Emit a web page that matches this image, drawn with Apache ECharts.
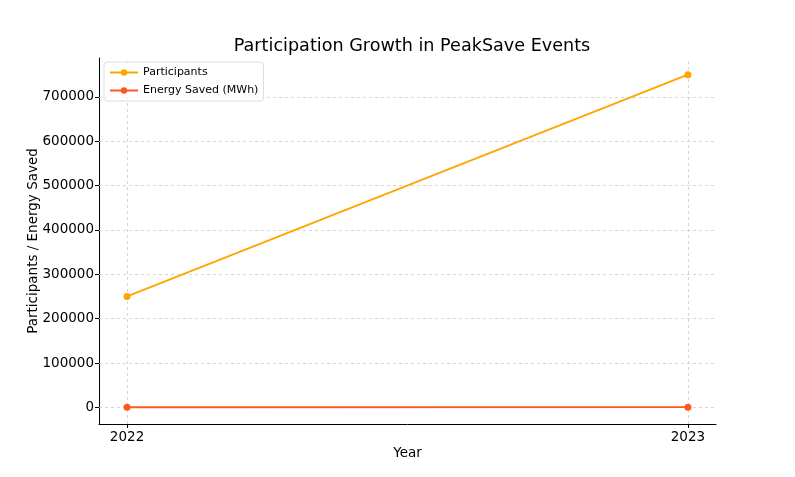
<!DOCTYPE html>
<html><head><meta charset="utf-8">
<script src="https://cdn.jsdelivr.net/npm/echarts@6/dist/echarts.min.js"></script>
<style>html,body{margin:0;padding:0;background:#fff}#c{width:795px;height:477px}</style>
</head><body><div id="c"></div>
<script>
const years = [2022, 2023];
const participants = [250000, 750000];
const energySaved = [250, 500];
const yTicks = [0, 100000, 200000, 300000, 400000, 500000, 600000, 700000];
const xTicks = [2022, 2023];

const font = 'DejaVu Sans';
const chart = echarts.init(document.getElementById('c'));
const gridLine = {color: '#cccccc', type: [3, 3], width: 0.8};
chart.setOption({
  animation: false,
  title: {text: 'Participation Growth in PeakSave Events', left: 407, textAlign: 'center', top: 32,
    textStyle: {fontFamily: font, fontSize: 17.6, fontWeight: 'normal', color: '#000'}},
  legend: {left: 104, top: 62, orient: 'vertical', itemWidth: 28, itemHeight: 8, itemGap: 7,
    padding: [5, 5, 5, 5], borderColor: '#dddddd', borderWidth: 1, borderRadius: 3,
    backgroundColor: 'rgba(255,255,255,0.8)',
    textStyle: {fontFamily: font, fontSize: 11, color: '#000'},
    data: ['Participants', 'Energy Saved (MWh)']},
  grid: {left: 99, right: 79, top: 58, bottom: 53, containLabel: false},
  xAxis: {type: 'value', min: 2021.95, max: 2023.05, name: 'Year', nameLocation: 'middle', nameGap: 22,
    nameMoveOverlap: false,
    nameTextStyle: {fontFamily: font, fontSize: 13.5, color: '#000'},
    axisLine: {show: true, onZero: false, lineStyle: {color: '#000', width: 1}},
    axisTick: {show: true, inside: false, length: 4, customValues: xTicks, lineStyle: {color: '#000'}},
    axisLabel: {customValues: xTicks, fontFamily: font, fontSize: 13.5, color: '#000', margin: 6,
      formatter: v => String(Math.round(v))},
    splitLine: {show: false}},
  yAxis: {type: 'value', min: -37500, max: 787500, name: 'Participants / Energy Saved', nameLocation: 'middle', nameGap: 59,
    nameMoveOverlap: false,
    nameTextStyle: {fontFamily: font, fontSize: 13.5, color: '#000'},
    axisLine: {show: true, onZero: false, lineStyle: {color: '#000', width: 1}},
    axisTick: {show: true, inside: false, length: 4, customValues: yTicks, lineStyle: {color: '#000'}},
    axisLabel: {customValues: yTicks, fontFamily: font, fontSize: 13.5, color: '#000', margin: 5,
      formatter: v => String(v)},
    splitLine: {show: false}},
  series: [
    {name: 'Participants', type: 'line', data: years.map((y, i) => [y, participants[i]]),
      color: '#FFA500', symbol: 'circle', symbolSize: 7, lineStyle: {width: 1.8}, z: 3,
      markLine: {silent: true, symbol: 'none', label: {show: false}, lineStyle: gridLine, z: 1,
        data: xTicks.map(v => ({xAxis: v})).concat(yTicks.map(v => ({yAxis: v})))}},
    {name: 'Energy Saved (MWh)', type: 'line', data: years.map((y, i) => [y, energySaved[i]]),
      color: '#FF5722', symbol: 'circle', symbolSize: 7, lineStyle: {width: 1.8}, z: 4}
  ]
});
</script></body></html>
